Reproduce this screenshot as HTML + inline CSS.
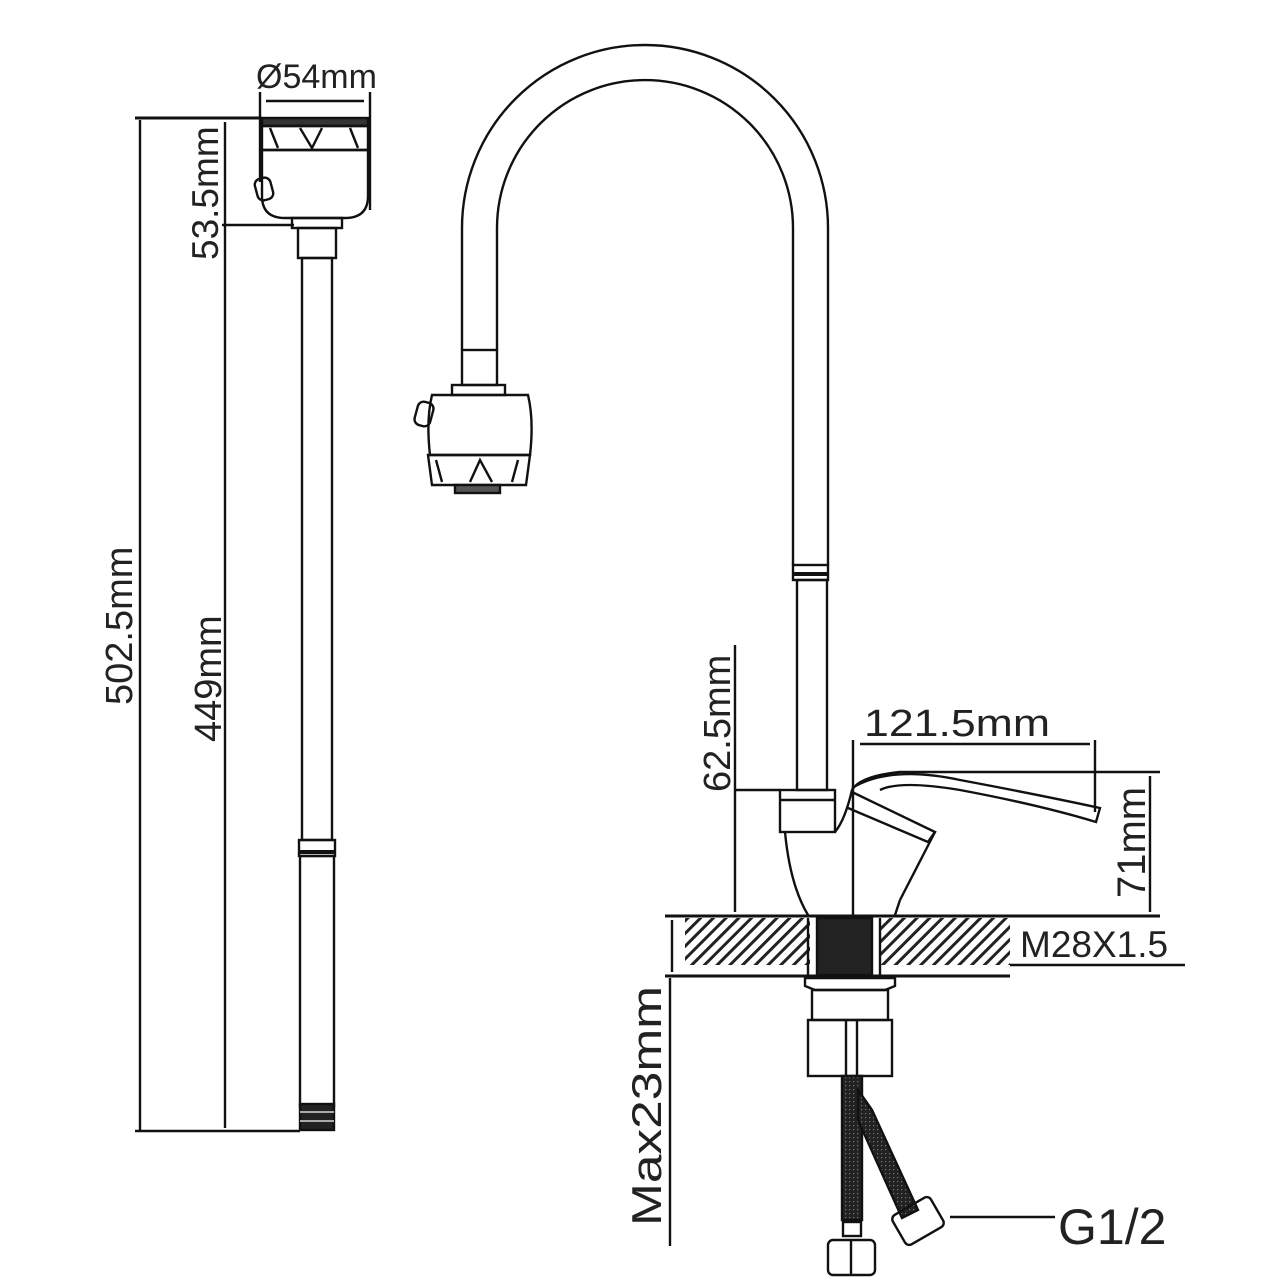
<!DOCTYPE html>
<html><head><meta charset="utf-8"><style>
html,body{margin:0;padding:0;background:#fff;}
svg{display:block}
text{font-family:"Liberation Sans",sans-serif;fill:#222;}
</style></head><body>
<svg width="1280" height="1280" viewBox="0 0 1280 1280" xmlns="http://www.w3.org/2000/svg">
<defs>
<pattern id="h" width="9" height="9" patternUnits="userSpaceOnUse" patternTransform="rotate(45)">
<rect width="9" height="9" fill="#fff"/><rect width="3" height="9" fill="#222"/></pattern>
<pattern id="br" width="4" height="4" patternUnits="userSpaceOnUse">
<rect width="4" height="4" fill="#222"/><rect x="1" y="1" width="1.2" height="1.2" fill="#777"/></pattern>
</defs>
<g fill="none" stroke="#111" stroke-width="2.4">
<line x1="140" y1="120" x2="140" y2="1130"/>
<line x1="135" y1="118" x2="262" y2="118" stroke-width="3"/>
<line x1="135" y1="1131" x2="300" y2="1131"/>
<line x1="225" y1="122" x2="225" y2="1128"/>
<line x1="222" y1="225" x2="294" y2="225"/>
<line x1="260" y1="92" x2="260" y2="182"/>
<line x1="370" y1="92" x2="370" y2="210"/>
<line x1="266" y1="101" x2="364" y2="101"/>
<rect x="262" y="118" width="106" height="8" fill="#333"/>
<path d="M262 126 L368 126 L368 150 L262 150 Z"/>
<path d="M270 128 L278 148 M300 128 L312 148 L322 128 M350 128 L358 148"/>
<path d="M262 150 L368 150 L368 196 Q368 218 345 218 L285 218 Q262 218 262 196 Z"/>
<rect x="256" y="178" width="16" height="22" rx="6" transform="rotate(-15 264 189)"/>
<rect x="292" y="218" width="50" height="10"/>
<rect x="298" y="228" width="38" height="30"/>
<rect x="302" y="258" width="30" height="582"/>
<rect x="299" y="840" width="36" height="16"/>
<line x1="299" y1="852" x2="335" y2="852" stroke-width="4"/>
<rect x="300" y="856" width="34" height="250"/>
<rect x="300" y="1104" width="34" height="26" fill="#222"/>
<line x1="300" y1="1112" x2="334" y2="1112" stroke="#aaa" stroke-width="2"/>
<line x1="300" y1="1121" x2="334" y2="1121" stroke="#aaa" stroke-width="2"/>
<path d="M462 350 L462 228 A183 183 0 0 1 828 228 L828 565"/>
<path d="M497 350 L497 228 A148 148 0 0 1 793 228 L793 565"/>
<rect x="793" y="565" width="35" height="15"/>
<line x1="793" y1="574" x2="828" y2="574" stroke-width="4"/>
<rect x="797" y="580" width="30" height="210"/>
<rect x="462" y="350" width="35" height="35"/>
<rect x="452" y="385" width="53" height="10"/>
<path d="M432 395 L528 395 Q534 420 530 455 L430 455 Q426 420 432 395 Z"/>
<rect x="416" y="402" width="16" height="24" rx="6" transform="rotate(15 424 414)"/>
<path d="M428 455 L530 455 L526 485 L432 485 Z"/>
<path d="M436 460 L442 482 M470 482 L480 460 L492 482 M518 460 L512 482"/>
<rect x="455" y="485" width="45" height="8" fill="#555"/>
<rect x="780" y="790" width="55" height="42"/>
<line x1="780" y1="800" x2="835" y2="800"/>
<path d="M785 832 Q790 885 808 915"/>
<path d="M835 832 Q845 820 852 790 Q860 776 900 772 L1160 772"/>
<path d="M852 788 Q890 765 960 780 Q1040 795 1100 808 L1096 822 Q1040 805 960 790 Q900 780 880 790"/>
<path d="M852 792 L935 832 L928 842 L848 808"/>
<path d="M900 900 L935 832"/>
<path d="M900 900 L895 915"/>
<line x1="735" y1="645" x2="735" y2="912"/>
<line x1="735" y1="790" x2="780" y2="790"/>
<line x1="853" y1="740" x2="853" y2="915"/>
<line x1="1095" y1="740" x2="1095" y2="812"/>
<line x1="860" y1="744" x2="1090" y2="744"/>
<line x1="1150" y1="776" x2="1150" y2="912"/>
<line x1="665" y1="916" x2="1160" y2="916" stroke-width="3"/>
<rect x="685" y="918" width="125" height="47" fill="url(#h)" stroke="none"/>
<rect x="880" y="918" width="130" height="47" fill="url(#h)" stroke="none"/>
<rect x="817" y="918" width="55" height="57" fill="#222"/>
<line x1="808" y1="918" x2="808" y2="975"/>
<line x1="880" y1="918" x2="880" y2="975"/>
<line x1="1010" y1="965" x2="1185" y2="965"/>
<line x1="665" y1="976" x2="1010" y2="976" stroke-width="3"/>
<line x1="672" y1="920" x2="672" y2="972"/>
<line x1="670" y1="978" x2="670" y2="1246"/>
<path d="M805 978 L895 978 L895 986 L885 990 L815 990 L805 986 Z"/>
<rect x="812" y="990" width="76" height="30"/>
<rect x="808" y="1020" width="84" height="56"/>
<line x1="846" y1="1020" x2="846" y2="1076"/>
<line x1="857" y1="1020" x2="857" y2="1076"/>
<path d="M842 1076 L862 1076 L862 1220 L842 1220 Z" fill="url(#br)"/>
<path d="M858 1090 L872 1110 L918 1210 L902 1218 L858 1120 Z" fill="url(#br)"/>
<rect x="843" y="1222" width="18" height="14"/>
<rect x="828" y="1240" width="47" height="35" rx="5"/>
<line x1="851" y1="1240" x2="851" y2="1275"/>
<rect x="896" y="1204" width="44" height="34" rx="5" transform="rotate(-30 918 1221)"/>
<line x1="950" y1="1217" x2="1055" y2="1217"/>
</g>
<text x="0" y="0" font-size="38" transform="translate(132 705) rotate(-90)">502.5mm</text>
<text x="0" y="0" font-size="38" transform="translate(221 742) rotate(-90)">449mm</text>
<text x="0" y="0" font-size="37" transform="translate(218 260) rotate(-90)">53.5mm</text>
<text x="256" y="88" font-size="34">Ø54mm</text>
<text x="0" y="0" font-size="38" transform="translate(730 792) rotate(-90)">62.5mm</text>
<text x="864" y="736" font-size="38" textLength="186" lengthAdjust="spacingAndGlyphs">121.5mm</text>
<text x="0" y="0" font-size="40" transform="translate(1145 898) rotate(-90)">71mm</text>
<text x="1020" y="957" font-size="37">M28X1.5</text>
<text x="0" y="0" font-size="42" textLength="240" lengthAdjust="spacingAndGlyphs" transform="translate(661 1226) rotate(-90)">Max23mm</text>
<text x="1058" y="1244" font-size="50">G1/2</text>
</svg>
</body></html>
